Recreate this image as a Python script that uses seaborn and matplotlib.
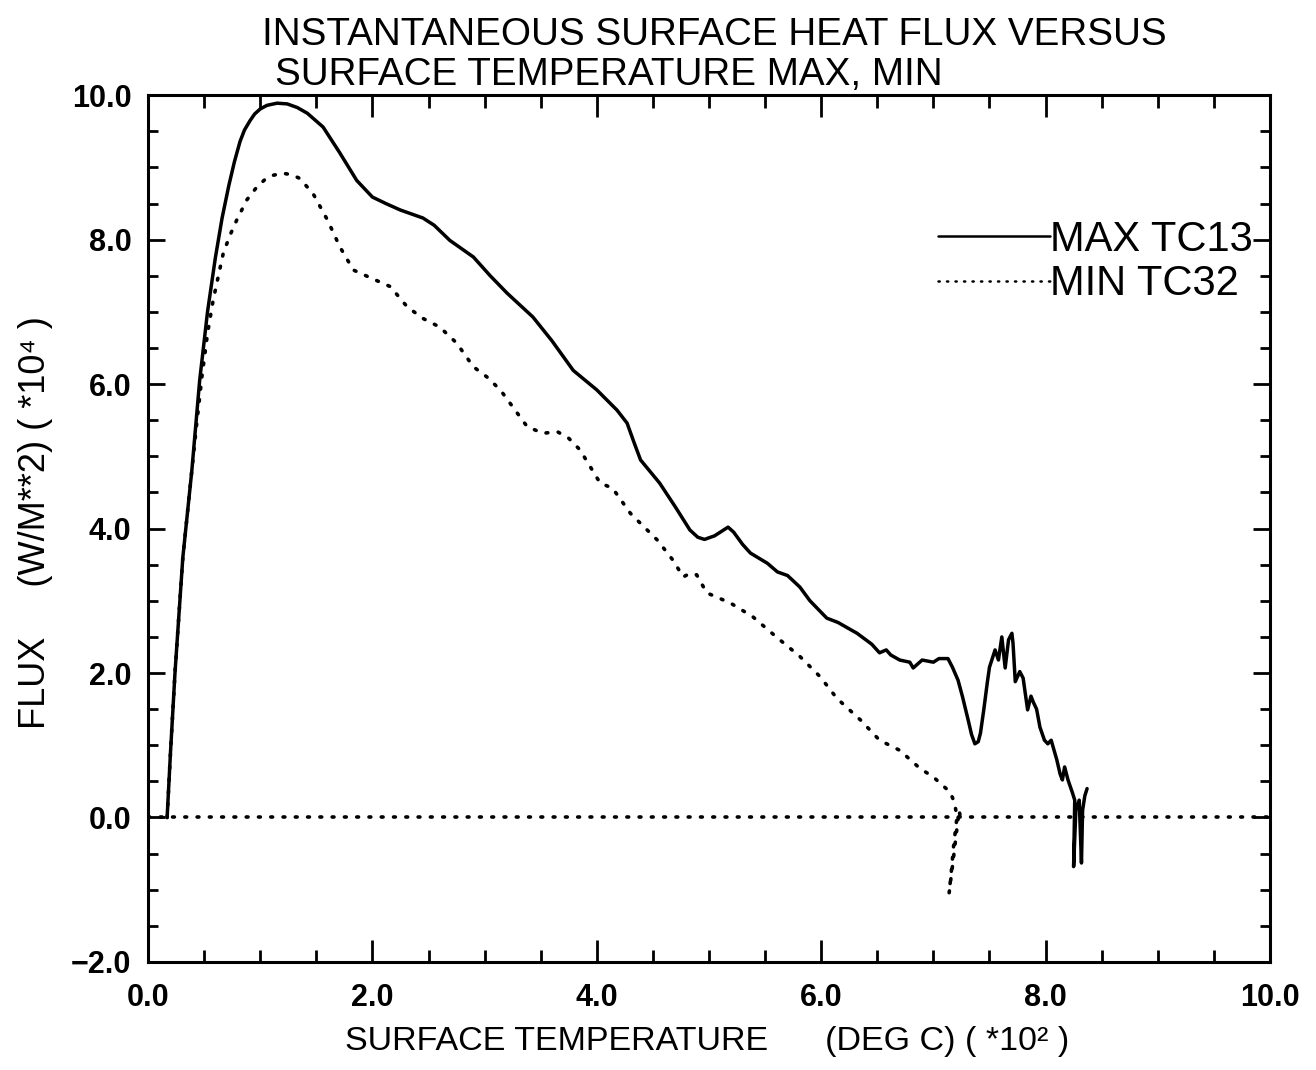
import numpy as np
import pandas as pd
import matplotlib
matplotlib.use("Agg")
import matplotlib.pyplot as plt
import seaborn as sns

# Surface temperature (x 10^2 deg C) and instantaneous heat flux (x 10^4 W/m^2)
max_temp = [0.17, 0.20, 0.24, 0.31, 0.39, 0.46, 0.53, 0.60, 0.66, 0.72, 0.77, 0.82,
            0.86, 0.91, 0.95, 1.00, 1.06, 1.15, 1.24, 1.33, 1.42, 1.56, 1.71, 1.86,
            2.00, 2.12, 2.25, 2.45, 2.55, 2.69, 2.90, 3.05, 3.20, 3.43, 3.60, 3.79,
            4.00, 4.18, 4.27, 4.33, 4.39, 4.56, 4.70, 4.83, 4.90, 4.96, 5.05, 5.17,
            5.22, 5.30, 5.37, 5.52, 5.61, 5.70, 5.81, 5.90, 6.05, 6.15, 6.32, 6.45,
            6.52, 6.58, 6.62, 6.70, 6.79, 6.82, 6.90, 7.00, 7.05, 7.13, 7.17, 7.22,
            7.26, 7.31, 7.34, 7.37, 7.40, 7.42, 7.45, 7.48, 7.50, 7.55, 7.58, 7.61,
            7.64, 7.67, 7.70, 7.71, 7.73, 7.77, 7.80, 7.84, 7.87, 7.89, 7.92, 7.95,
            7.99, 8.02, 8.05, 8.10, 8.13, 8.15, 8.17, 8.20, 8.24, 8.26, 8.25, 8.27,
            8.30, 8.32, 8.33, 8.35, 8.37]
max_flux = [0.00, 0.90, 2.00, 3.60, 4.80, 6.05, 7.00, 7.75, 8.30, 8.75, 9.08, 9.36,
            9.52, 9.65, 9.74, 9.81, 9.86, 9.89, 9.88, 9.83, 9.75, 9.56, 9.20, 8.82,
            8.59, 8.50, 8.41, 8.30, 8.20, 7.99, 7.76, 7.50, 7.26, 6.93, 6.60, 6.19,
            5.92, 5.64, 5.46, 5.20, 4.95, 4.63, 4.30, 3.98, 3.88, 3.85, 3.90, 4.02,
            3.95, 3.78, 3.66, 3.52, 3.40, 3.35, 3.19, 3.00, 2.76, 2.70, 2.55, 2.40,
            2.28, 2.32, 2.25, 2.18, 2.15, 2.07, 2.18, 2.15, 2.20, 2.20, 2.08, 1.90,
            1.67, 1.35, 1.15, 1.02, 1.05, 1.17, 1.50, 1.86, 2.08, 2.32, 2.18, 2.50,
            2.07, 2.46, 2.55, 2.41, 1.88, 2.02, 1.93, 1.49, 1.68, 1.60, 1.50, 1.25,
            1.07, 1.02, 1.07, 0.80, 0.60, 0.52, 0.70, 0.52, 0.34, 0.24, -0.68, 0.10,
            0.24, -0.63, 0.10, 0.30, 0.40]

min_temp = [0.17, 0.20, 0.24, 0.31, 0.39, 0.43, 0.48, 0.53, 0.58, 0.67, 0.73, 0.79,
            0.88, 0.97, 1.04, 1.11, 1.20, 1.28, 1.35, 1.47, 1.60, 1.71, 1.83, 2.00,
            2.16, 2.31, 2.45, 2.60, 2.75, 2.90, 3.02, 3.14, 3.38, 3.52, 3.65, 3.75,
            3.85, 4.03, 4.14, 4.30, 4.54, 4.68, 4.77, 4.83, 4.89, 4.98, 5.19, 5.39,
            5.60, 5.81, 5.99, 6.14, 6.35, 6.52, 6.70, 6.88, 7.00, 7.15, 7.19, 7.21,
            7.18, 7.16, 7.14, 7.18, 7.21, 7.23, 7.24]
min_flux = [0.00, 0.90, 2.00, 3.60, 4.80, 5.40, 6.10, 6.70, 7.16, 7.81, 8.06, 8.27,
            8.55, 8.73, 8.83, 8.89, 8.92, 8.90, 8.85, 8.64, 8.27, 7.90, 7.58, 7.46,
            7.35, 7.07, 6.91, 6.79, 6.57, 6.24, 6.10, 5.92, 5.41, 5.32, 5.34, 5.25,
            5.09, 4.63, 4.56, 4.21, 3.84, 3.56, 3.33, 3.38, 3.36, 3.11, 2.97, 2.78,
            2.50, 2.23, 1.95, 1.65, 1.35, 1.07, 0.93, 0.68, 0.56, 0.35, 0.20, 0.00,
            -0.40, -0.75, -1.05, -0.55, -0.15, 0.10, 0.00]

series_labels = ["MAX TC13", "MIN TC32"]
x_ticks = [0.0, 2.0, 4.0, 6.0, 8.0, 10.0]
y_ticks = [-2.0, 0.0, 2.0, 4.0, 6.0, 8.0, 10.0]

df = pd.concat([
    pd.DataFrame({"temp": max_temp, "flux": max_flux, "series": series_labels[0]}),
    pd.DataFrame({"temp": min_temp, "flux": min_flux, "series": series_labels[1]}),
], ignore_index=True)

sns.set_theme(style="ticks")
plt.rcParams["font.family"] = ["Liberation Sans", "DejaVu Sans"]
plt.rcParams["text.color"] = "black"
plt.rcParams["axes.labelcolor"] = "black"
plt.rcParams["xtick.color"] = "black"
plt.rcParams["ytick.color"] = "black"
plt.rcParams["axes.linewidth"] = 2.2

fig = plt.figure(figsize=(13.16, 10.70), dpi=100)
ax = fig.add_axes([0.1125, 0.101, 0.8525, 0.810])

dot_style = (0, (0.5, 2.9))
sns.lineplot(data=df[df.series == series_labels[0]], x="temp", y="flux",
             sort=False, estimator=None, color="black", lw=2.5,
             label=series_labels[0], ax=ax)
sns.lineplot(data=df[df.series == series_labels[1]], x="temp", y="flux",
             sort=False, estimator=None, color="black", lw=2.6,
             linestyle=dot_style, dash_capstyle="round",
             label=series_labels[1], ax=ax)
# zero reference line across the whole temperature range
ax.axhline(0.0, color="black", lw=2.6, linestyle=dot_style,
           dash_capstyle="round", zorder=1)

ax.set_xlim(0, 10)
ax.set_ylim(-2, 10)
ax.set_xticks(x_ticks)
ax.set_yticks(y_ticks)
ax.set_xticks(np.arange(0, 10.01, 0.5), minor=True)
ax.set_yticks(np.arange(-2, 10.01, 0.5), minor=True)


def fmt(v):
    return f"{v:.1f}".replace("-", "\u2212")


tick_font = dict(family=["Liberation Sans", "DejaVu Sans"], weight="bold", size=22)
ax.set_xticklabels([fmt(v) for v in x_ticks], fontdict=tick_font)
ax.set_yticklabels([fmt(v) for v in y_ticks], fontdict=tick_font)
ax.tick_params(axis="both", which="both", direction="in", top=True, right=True,
               color="black", width=2.0)
ax.tick_params(axis="x", which="major", length=16, pad=15)
ax.tick_params(axis="x", which="minor", length=9)
ax.tick_params(axis="y", which="major", length=12, pad=12)
ax.tick_params(axis="y", which="minor", length=7)
for s in ax.spines.values():
    s.set_color("black")
    s.set_linewidth(2.2)

ax.set_xlabel("SURFACE TEMPERATURE      (DEG C) ( *10² )", fontsize=24.5)
ax.xaxis.set_label_coords(0.498, -0.074)
ax.set_ylabel("FLUX     (W/M**2) ( *10⁴ )", fontsize=26)
ax.yaxis.set_label_coords(-0.085, 0.507)

fig.text(0.199, 0.967, "INSTANTANEOUS SURFACE HEAT FLUX VERSUS",
         fontsize=27.8, ha="left", va="center")
fig.text(0.209, 0.930, "SURFACE TEMPERATURE MAX, MIN",
         fontsize=27.8, ha="left", va="center")

leg = ax.legend(loc="upper left", bbox_to_anchor=(0.704, 0.856), frameon=False,
                fontsize=30, handlelength=2.7, handletextpad=0.0,
                labelspacing=0.1, borderpad=0.0, borderaxespad=0.0)
for line in leg.get_lines():
    line.set_linewidth(1.8)

fig.savefig("out.png", dpi=100, facecolor="white")
